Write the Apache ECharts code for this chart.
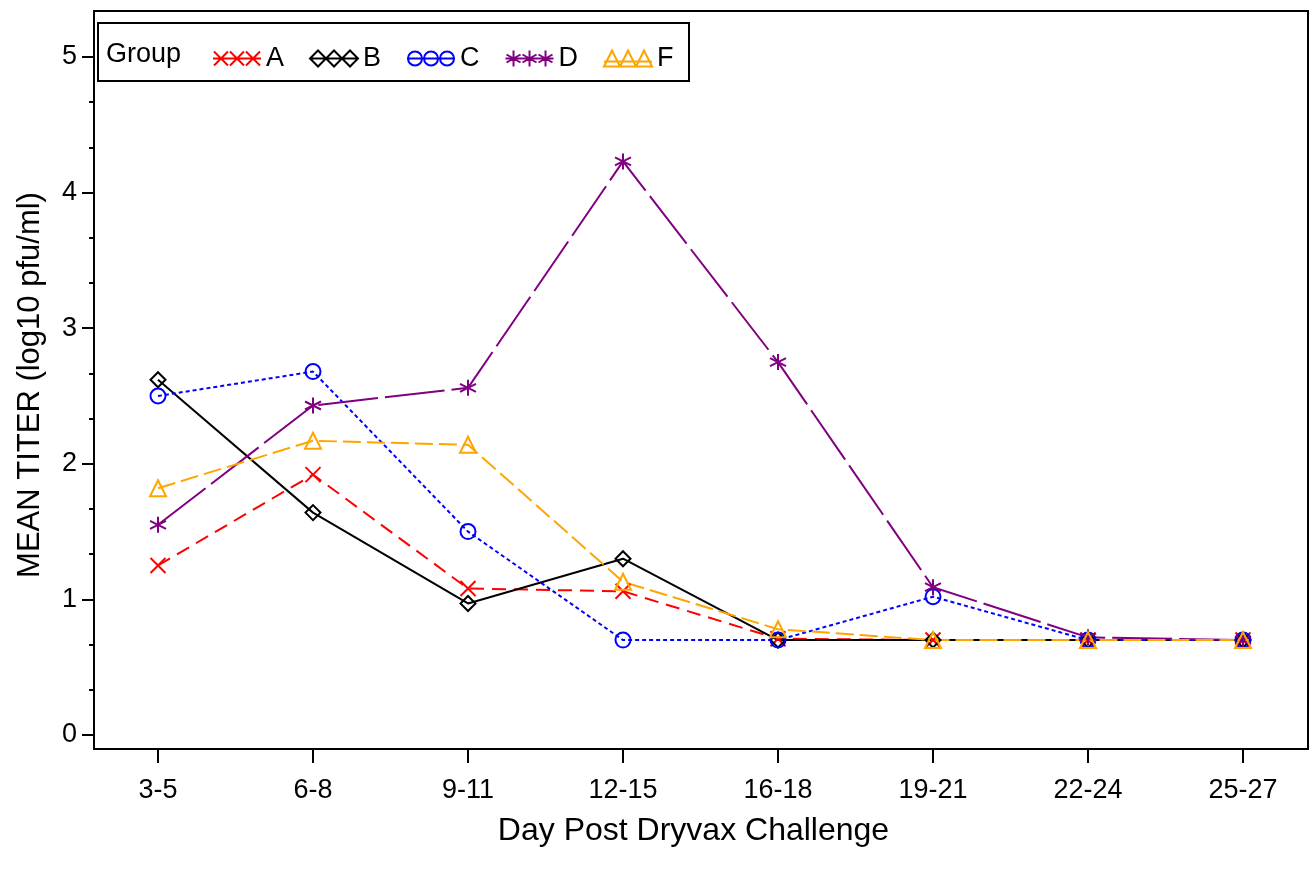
<!DOCTYPE html>
<html>
<head>
<meta charset="utf-8">
<script src="https://cdn.jsdelivr.net/npm/echarts@6/dist/echarts.min.js"></script>
<style>
  html, body { margin: 0; padding: 0; background: #ffffff; }
  #chart { width: 1316px; height: 872px; }
</style>
</head>
<body>
<div id="chart"></div>
<script>
// ---- data ----
const categories = ['3-5', '6-8', '9-11', '12-15', '16-18', '19-21', '22-24', '25-27'];
const groupNames = ['A', 'B', 'C', 'D', 'F'];
const groupA = [1.25, 1.92, 1.08, 1.06, 0.71, 0.70, 0.70, 0.70];
const groupB = [2.62, 1.64, 0.97, 1.30, 0.70, 0.70, 0.70, 0.70];
const groupC = [2.50, 2.68, 1.50, 0.70, 0.70, 1.02, 0.70, 0.70];
const groupD = [1.55, 2.43, 2.56, 4.23, 2.75, 1.09, 0.72, 0.70];
const groupF = [1.82, 2.17, 2.14, 1.13, 0.78, 0.70, 0.70, 0.70];
const yTickValues = [0, 1, 2, 3, 4, 5];
const xAxisTitle = 'Day Post Dryvax Challenge';
const yAxisTitle = 'MEAN TITER (log10 pfu/ml)';
const legendTitle = 'Group';

// ---- styles ----
const FONT = '"Liberation Sans", Arial, sans-serif';
const seriesStyles = {
  A: { color: '#FF0000', dash: [14, 8], symbol: 'path://M0,0L10,10M0,10L10,0', size: 15,
       icon: 'path://M0,8L48,8M1,1L15,15M1,15L15,1M17,1L31,15M17,15L31,1M33,1L47,15M33,15L47,1' },
  B: { color: '#000000', dash: 'solid', symbol: 'diamond', size: 15,
       icon: 'path://M0,8L48,8M0,8L8,0L16,8L8,16ZM16,8L24,0L32,8L24,16ZM32,8L40,0L48,8L40,16Z' },
  C: { color: '#0000FF', dash: [4, 3], symbol: 'circle', size: 15,
       icon: 'path://M0,8L48,8M1,8A7,7 0 1 1 15,8A7,7 0 1 1 1,8ZM17,8A7,7 0 1 1 31,8A7,7 0 1 1 17,8ZM33,8A7,7 0 1 1 47,8A7,7 0 1 1 33,8Z' },
  D: { color: '#800080', dash: [60, 7], symbol: 'path://M5,0L5,10M0.7,2.5L9.3,7.5M0.7,7.5L9.3,2.5', size: 16,
       icon: 'path://M0,8L48,8M8,0L8,16M1,4L15,12M1,12L15,4M24,0L24,16M17,4L31,12M17,12L31,4M40,0L40,16M33,4L47,12M33,12L47,4' },
  F: { color: '#FFA500', dash: [18, 6], symbol: 'triangle', size: 16,
       icon: 'path://M0,11L48,11M0,16L8,0L16,16ZM16,16L24,0L32,16ZM32,16L40,0L48,16Z' }
};
const groupData = { A: groupA, B: groupB, C: groupC, D: groupD, F: groupF };

const series = groupNames.map(function (g) {
  const s = seriesStyles[g];
  return {
    name: g,
    type: 'line',
    data: groupData[g],
    symbol: s.symbol,
    symbolSize: s.size,
    showAllSymbol: true,
    clip: false,
    itemStyle: { color: 'rgba(0,0,0,0)', borderColor: s.color, borderWidth: 2 },
    lineStyle: { color: s.color, width: 2, type: s.dash },
    emphasis: { disabled: true }
  };
});

const chart = echarts.init(document.getElementById('chart'), null, { renderer: 'canvas' });
chart.setOption({
  animation: false,
  backgroundColor: '#ffffff',
  grid: { left: 158, right: 73, top: 57, bottom: 137, containLabel: false },
  xAxis: {
    type: 'category',
    data: categories,
    boundaryGap: false,
    offset: 14,
    axisLine: { show: false, onZero: false },
    axisTick: { show: true, inside: false, length: 14, lineStyle: { color: '#000', width: 2 } },
    axisLabel: { color: '#000', fontFamily: FONT, fontSize: 27, margin: 28 },
    splitLine: { show: false },
    name: xAxisTitle,
    nameLocation: 'middle',
    nameGap: 66,
    nameTextStyle: { color: '#000', fontFamily: FONT, fontSize: 32, padding: [0, 14, 0, 0] }
  },
  yAxis: {
    type: 'value',
    min: yTickValues[0],
    max: yTickValues[yTickValues.length - 1],
    interval: 1,
    offset: 64,
    axisLine: { show: false, onZero: false },
    axisTick: { show: true, inside: false, length: 12, lineStyle: { color: '#000', width: 2 } },
    minorTick: { show: true, splitNumber: 3, length: 5, lineStyle: { color: '#000', width: 2 } },
    axisLabel: { color: '#000', fontFamily: FONT, fontSize: 27, margin: 17 },
    splitLine: { show: false },
    name: yAxisTitle,
    nameLocation: 'middle',
    nameGap: 48,
    nameTextStyle: { color: '#000', fontFamily: FONT, fontSize: 31, padding: [0, 0, 0, 22] }
  },
  legend: {
    data: groupNames.map(function (g) {
      const s = seriesStyles[g];
      return { name: g, icon: s.icon, itemStyle: { color: 'rgba(0,0,0,0)', borderColor: s.color, borderWidth: 2 } };
    }),
    left: 212,
    top: 45,
    padding: 0,
    itemWidth: 48,
    itemHeight: 17,
    itemGap: 25,
    selectedMode: false,
    textStyle: { color: '#000', fontFamily: FONT, fontSize: 27 }
  },
  graphic: [
    { type: 'rect', shape: { x: 94, y: 11, width: 1214, height: 738 },
      style: { fill: 'none', stroke: '#000', lineWidth: 2 }, silent: true },
    { type: 'rect', shape: { x: 98, y: 23, width: 591, height: 58 },
      style: { fill: 'none', stroke: '#000', lineWidth: 2 }, silent: true },
    { type: 'text', x: 106, y: 55,
      style: { text: legendTitle, fill: '#000', font: '27px ' + FONT, textVerticalAlign: 'middle' }, silent: true }
  ],
  series: series
});
</script>
</body>
</html>
